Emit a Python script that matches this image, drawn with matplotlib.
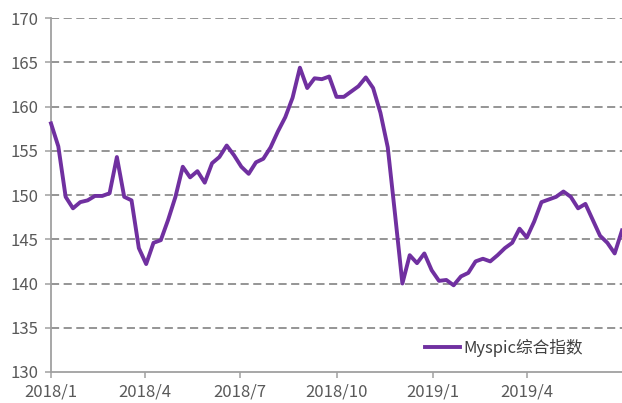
import matplotlib
matplotlib.use("Agg")
import matplotlib.pyplot as plt
import matplotlib.dates as mdates
import pandas as pd

plt.rcParams['font.family'] = ['Noto Sans CJK SC', 'DejaVu Sans']

start_date = "2018-01-01"
values = [158.1, 155.5, 149.8, 148.5, 149.2, 149.4, 149.9, 149.9, 150.2, 154.3,
          149.8, 149.4, 144.0, 142.2, 144.6, 144.9, 147.2, 149.8, 153.2, 152.0,
          152.7, 151.4, 153.6, 154.3, 155.6, 154.5, 153.2, 152.4, 153.7, 154.1,
          155.4, 157.2, 158.8, 161.0, 164.4, 162.1, 163.2, 163.1, 163.4, 161.1,
          161.1, 161.7, 162.3, 163.3, 162.1, 159.3, 155.4, 147.8, 140.0, 143.2,
          142.3, 143.4, 141.5, 140.3, 140.4, 139.8, 140.8, 141.2, 142.5, 142.8,
          142.5, 143.2, 144.0, 144.6, 146.2, 145.2, 147.0, 149.2, 149.5, 149.8,
          150.4, 149.8, 148.5, 149.0, 147.2, 145.4, 144.6, 143.4, 146.0]
series_name = "Myspic综合指数"
xtick_dates = ["2018-01-01", "2018-04-01", "2018-07-01", "2018-10-01", "2019-01-01", "2019-04-01"]
xtick_labels = ["2018/1", "2018/4", "2018/7", "2018/10", "2019/1", "2019/4"]
yticks = [130, 135, 140, 145, 150, 155, 160, 165, 170]

dates = pd.date_range(start_date, periods=len(values), freq="7D")

fig = plt.figure(figsize=(6.22, 4.03), dpi=100)
ax = fig.add_axes([0.082, 0.077, 0.918, 0.878])

grey_txt = "#595959"
grid_c = "#8c8c8c"

ax.plot(dates, values, color="#7030A0", lw=2.8, solid_joinstyle="round",
        label=series_name, clip_on=False, zorder=3)

ax.set_ylim(130, 170)
ax.set_yticks(yticks)
ax.set_xlim(pd.Timestamp(start_date), dates[-1])
ax.set_xticks(pd.to_datetime(xtick_dates))
ax.set_xticklabels(xtick_labels)

for y in yticks[1:]:
    ax.axhline(y, color=grid_c, lw=1.3, dashes=(4.5, 2.5), zorder=1)

for s in ["top", "right"]:
    ax.spines[s].set_visible(False)
for s in ["left", "bottom"]:
    ax.spines[s].set_color("#a0a0a0")
    ax.spines[s].set_linewidth(1.3)

ax.tick_params(axis="y", direction="out", length=4, width=1.1, color="#a0a0a0",
               labelsize=12, labelcolor=grey_txt, pad=5)
ax.tick_params(axis="x", direction="out", length=4, width=1.1, color="#a0a0a0",
               labelsize=12, labelcolor=grey_txt, pad=4)

ax.legend(loc="center left", bbox_to_anchor=(0.655, 0.068), frameon=False,
          fontsize=12, handlelength=2.1, handletextpad=0.2, borderpad=0,
          borderaxespad=0, labelcolor="#404040")

fig.savefig("out.png", dpi=100)
